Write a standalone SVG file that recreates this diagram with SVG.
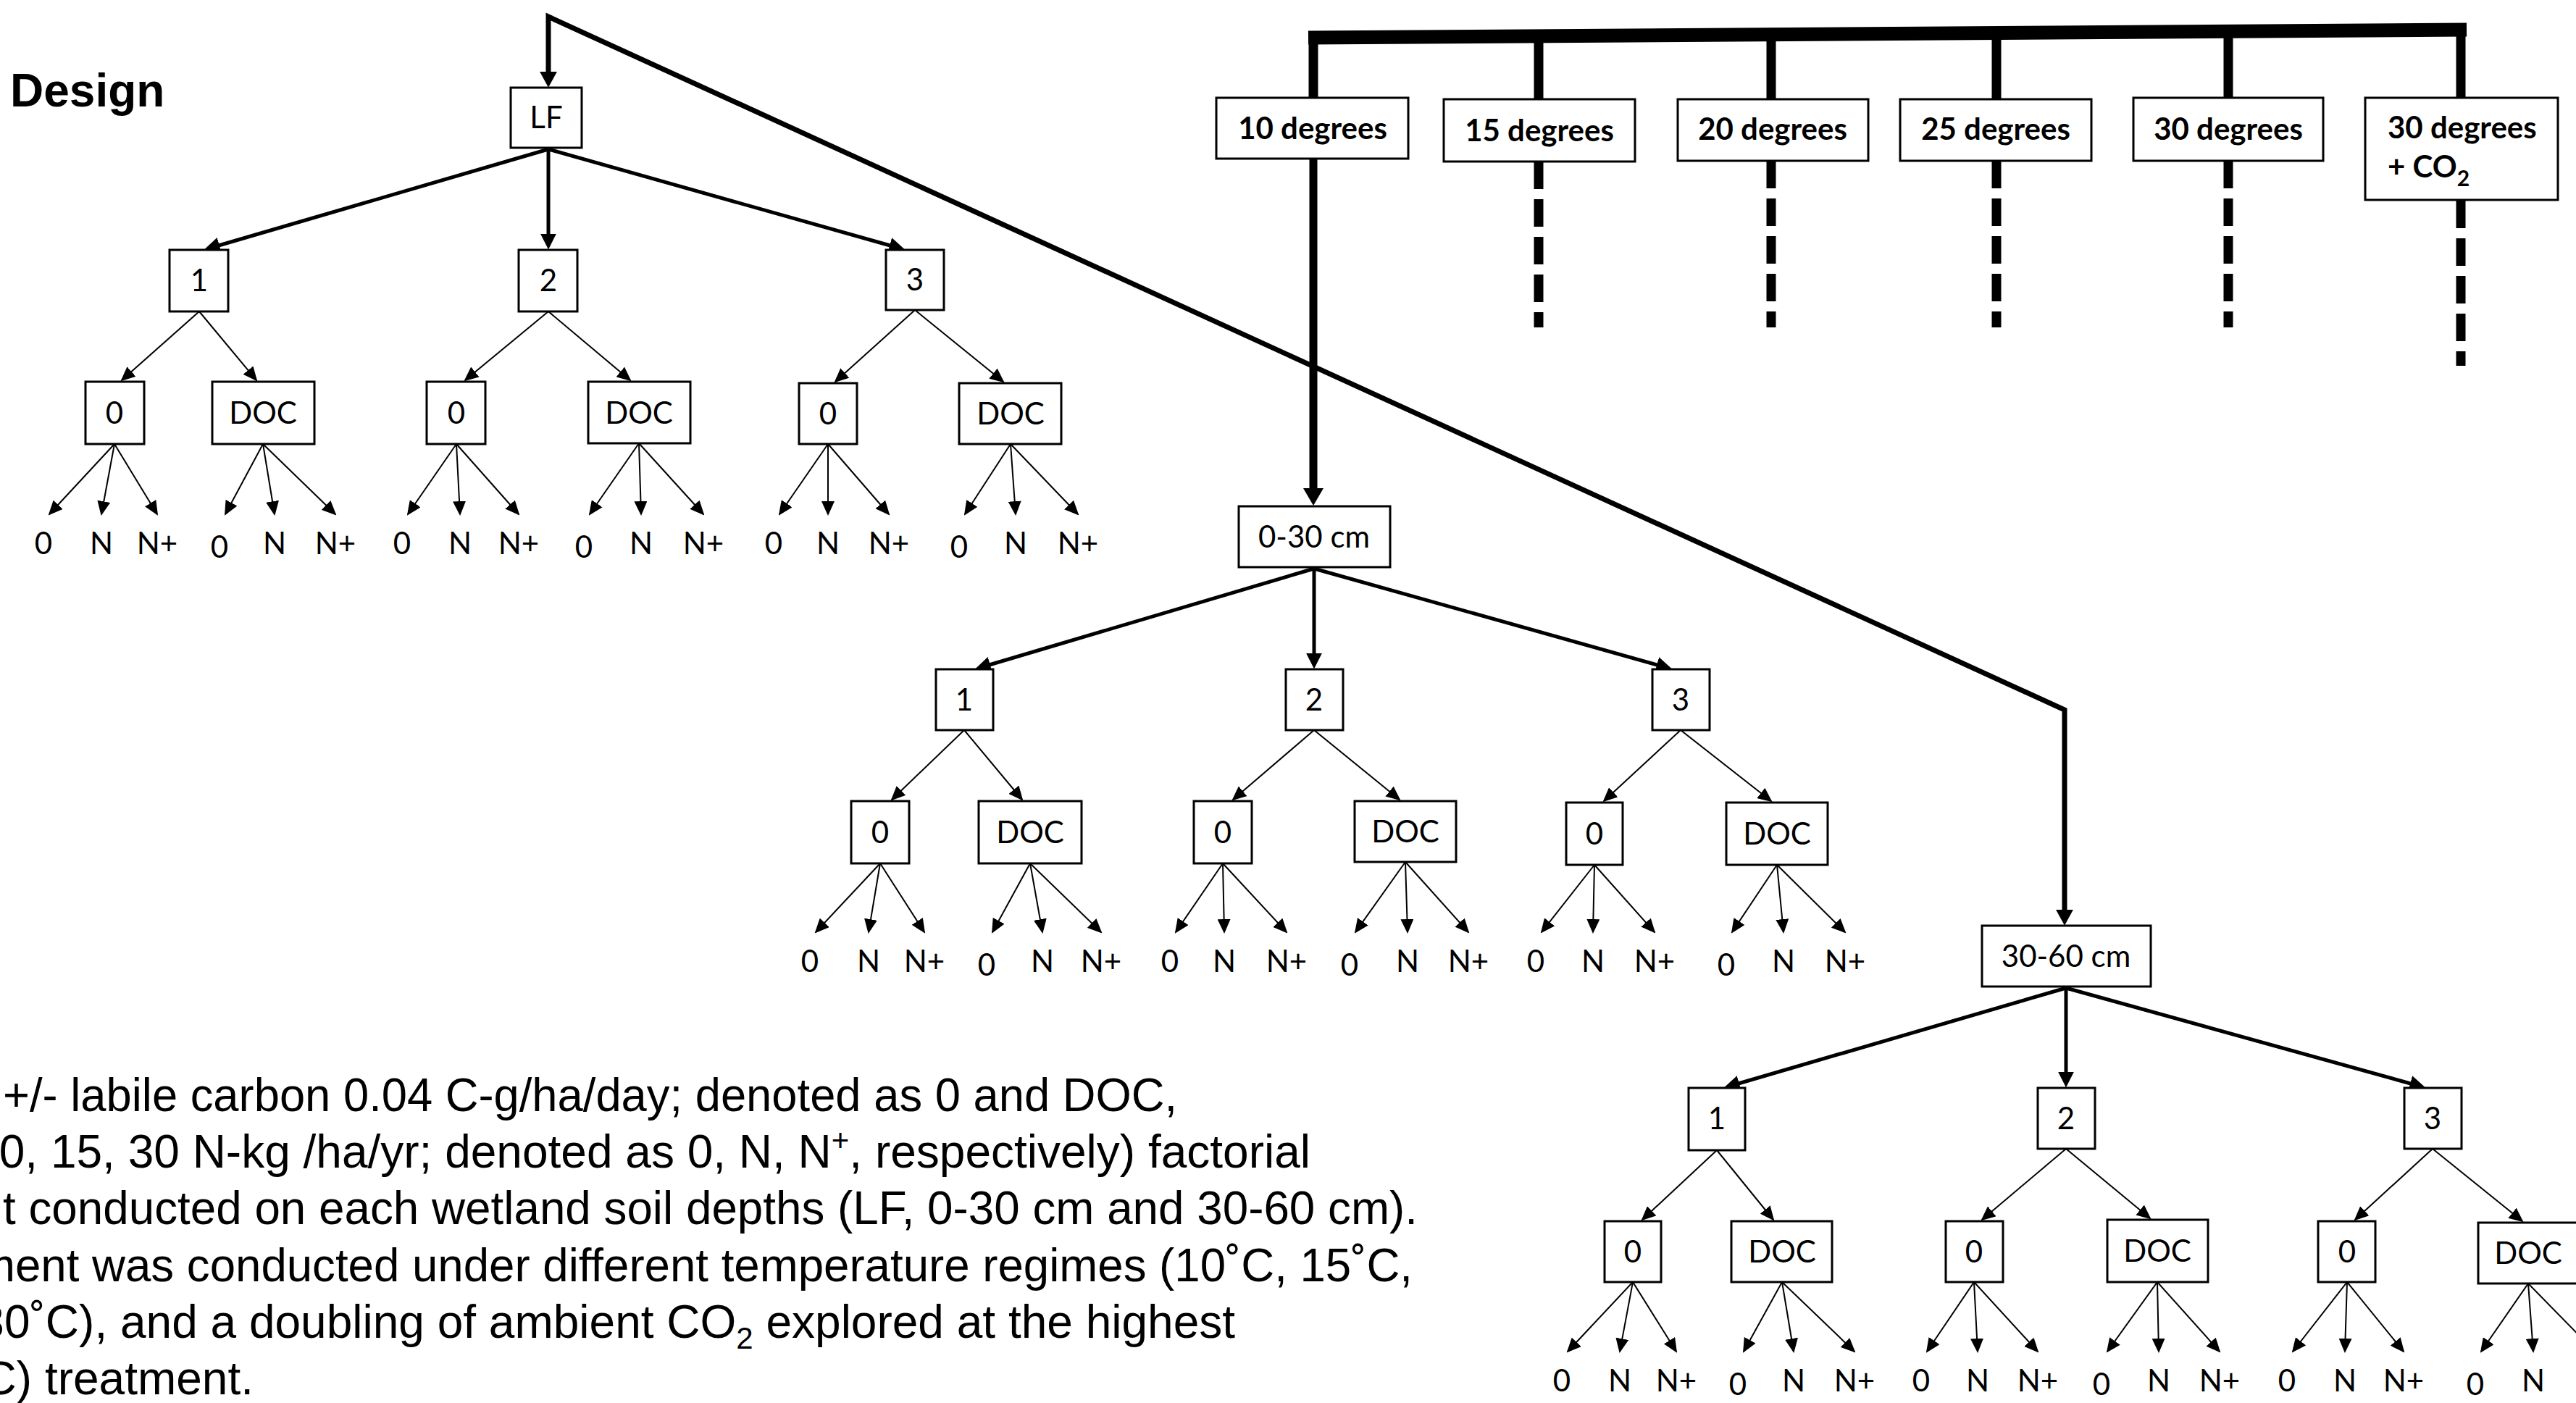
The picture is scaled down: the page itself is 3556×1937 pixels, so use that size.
<svg xmlns="http://www.w3.org/2000/svg" width="3556" height="1937" viewBox="0 0 3556 1937">
<style>
.box{fill:#fff;stroke:#000;stroke-width:3}
.nt{font-family:Lato,'Liberation Sans',sans-serif;font-size:42px;text-anchor:middle;fill:#000}
.dt{font-family:Lato,'Liberation Sans',sans-serif;font-size:42px;font-weight:bold;fill:#000}
.c{fill:none;stroke:#000}
.thin{stroke-width:2;marker-end:url(#ah)}
.thick{stroke-width:5;marker-end:url(#ahT)}
.dash{stroke-width:13;stroke-dasharray:38 14}
.desc{font-family:'Liberation Sans',Arial,sans-serif;font-size:64px;text-anchor:end;fill:#000}
</style>
<defs>
<marker id="ah" viewBox="0 0 10 10" refX="9" refY="5" markerUnits="userSpaceOnUse" markerWidth="20" markerHeight="18" orient="auto" preserveAspectRatio="none"><path d="M0,0L10,5L0,10z"/></marker>
<marker id="ahT" viewBox="0 0 10 10" refX="7" refY="5" markerUnits="userSpaceOnUse" markerWidth="22" markerHeight="22" orient="auto" preserveAspectRatio="none"><path d="M0,0L10,5L0,10z"/></marker>
<marker id="ahM" viewBox="0 0 10 10" refX="6" refY="5" markerUnits="userSpaceOnUse" markerWidth="22" markerHeight="24" orient="auto-start-reverse" preserveAspectRatio="none"><path d="M0,0L10,5L0,10z"/></marker>
<marker id="ahB" viewBox="0 0 10 10" refX="5" refY="5" markerUnits="userSpaceOnUse" markerWidth="24" markerHeight="28" orient="auto" preserveAspectRatio="none"><path d="M0,0L10,5L0,10z"/></marker>
</defs>
<rect width="3556" height="1937" fill="#fff"/>
<text x="14" y="147" font-family="'Liberation Sans',Arial,sans-serif" font-weight="bold" font-size="64">Design</text>

<g id="connectors">
<line class="c" x1="1806" y1="52" x2="3405" y2="41" stroke-width="19"/>
<path class="c" stroke-width="13" d="M1813,50V135M2124,48V137M2445,46V137M2756,44V137M3076,42V135M3397,40V135"/>
<path class="c dash" d="M2124,223V452M2445,222V452M2756,222V452M3076,222V452M3397,277V505"/>
<path class="c" stroke-width="11" marker-end="url(#ahB)" d="M1813,219V686"/>
<path class="c" stroke-width="7" stroke-linejoin="miter" marker-start="url(#ahM)" marker-end="url(#ahM)" d="M757,112L757,23L2850,980L2850,1269"/>
<!-- level 2 -->
<path class="c thick" d="M757,206L288,343"/>
<path class="c thick" d="M757,206L757,338"/>
<path class="c thick" d="M757,206L1243,343"/>
<path class="c thick" d="M1814,785L1352,922"/>
<path class="c thick" d="M1814,785L1814,917"/>
<path class="c thick" d="M1814,785L2302,922"/>
<path class="c thick" d="M2852,1364L2386,1500"/>
<path class="c thick" d="M2852,1364L2852,1495"/>
<path class="c thick" d="M2852,1364L3342,1500"/>
<!-- level 3 -->
<path class="c thin" d="M275,430L168,525"/>
<path class="c thin" d="M275,430L354,525"/>
<path class="c thin" d="M757,430L642,525"/>
<path class="c thin" d="M757,430L870,525"/>
<path class="c thin" d="M1263,428L1153,527"/>
<path class="c thin" d="M1263,428L1385,527"/>
<path class="c thin" d="M1331,1008L1231,1104"/>
<path class="c thin" d="M1331,1008L1411,1104"/>
<path class="c thin" d="M1814,1008L1702,1104"/>
<path class="c thin" d="M1814,1008L1932,1104"/>
<path class="c thin" d="M2320,1008L2214,1106"/>
<path class="c thin" d="M2320,1008L2445,1106"/>
<path class="c thin" d="M2370,1588L2267,1684"/>
<path class="c thin" d="M2370,1588L2448,1684"/>
<path class="c thin" d="M2852,1586L2736,1684"/>
<path class="c thin" d="M2852,1586L2968,1682"/>
<path class="c thin" d="M3358,1586L3251,1684"/>
<path class="c thin" d="M3358,1586L3482,1686"/>
<!-- leaves LF -->
<path class="c thin" d="M158,613L68,710"/><path class="c thin" d="M158,613L140,710"/><path class="c thin" d="M158,613L217,710"/>
<path class="c thin" d="M363,613L311,710"/><path class="c thin" d="M363,613L379,710"/><path class="c thin" d="M363,613L463,710"/>
<path class="c thin" d="M630,613L563,710"/><path class="c thin" d="M630,613L635,710"/><path class="c thin" d="M630,613L716,710"/>
<path class="c thin" d="M882,612L814,710"/><path class="c thin" d="M882,612L885,710"/><path class="c thin" d="M882,612L971,710"/>
<path class="c thin" d="M1143,613L1076,710"/><path class="c thin" d="M1143,613L1143,710"/><path class="c thin" d="M1143,613L1227,710"/>
<path class="c thin" d="M1395,613L1332,710"/><path class="c thin" d="M1395,613L1402,710"/><path class="c thin" d="M1395,613L1488,710"/>
<!-- leaves 0-30 -->
<path class="c thin" d="M1215,1192L1126,1287"/><path class="c thin" d="M1215,1192L1199,1287"/><path class="c thin" d="M1215,1192L1276,1287"/>
<path class="c thin" d="M1422,1192L1370,1287"/><path class="c thin" d="M1422,1192L1439,1287"/><path class="c thin" d="M1422,1192L1520,1287"/>
<path class="c thin" d="M1688,1192L1623,1287"/><path class="c thin" d="M1688,1192L1690,1287"/><path class="c thin" d="M1688,1192L1776,1287"/>
<path class="c thin" d="M1940,1190L1871,1287"/><path class="c thin" d="M1940,1190L1943,1287"/><path class="c thin" d="M1940,1190L2027,1287"/>
<path class="c thin" d="M2201,1194L2128,1287"/><path class="c thin" d="M2201,1194L2199,1287"/><path class="c thin" d="M2201,1194L2284,1287"/>
<path class="c thin" d="M2453,1194L2391,1287"/><path class="c thin" d="M2453,1194L2462,1287"/><path class="c thin" d="M2453,1194L2547,1287"/>
<!-- leaves 30-60 -->
<path class="c thin" d="M2254,1770L2164,1866"/><path class="c thin" d="M2254,1770L2236,1866"/><path class="c thin" d="M2254,1770L2314,1866"/>
<path class="c thin" d="M2460,1770L2407,1866"/><path class="c thin" d="M2460,1770L2476,1866"/><path class="c thin" d="M2460,1770L2560,1866"/>
<path class="c thin" d="M2725,1770L2660,1866"/><path class="c thin" d="M2725,1770L2730,1866"/><path class="c thin" d="M2725,1770L2813,1866"/>
<path class="c thin" d="M2978,1770L2909,1866"/><path class="c thin" d="M2978,1770L2980,1866"/><path class="c thin" d="M2978,1770L3064,1866"/>
<path class="c thin" d="M3240,1770L3165,1866"/><path class="c thin" d="M3240,1770L3237,1866"/><path class="c thin" d="M3240,1770L3318,1866"/>
<path class="c thin" d="M3490,1772L3425,1866"/><path class="c thin" d="M3490,1772L3497,1866"/><path class="c thin" d="M3490,1772L3582,1866"/>
</g>

<!-- temperature nodes -->
<g id="deg10"><rect class="box" x="1679" y="135" width="265" height="84"/><text class="dt" x="1812" y="192" text-anchor="middle">10 degrees</text></g>
<g id="deg15"><rect class="box" x="1993" y="137" width="264" height="86"/><text class="dt" x="2125" y="195" text-anchor="middle">15 degrees</text></g>
<g id="deg20"><rect class="box" x="2316" y="137" width="263" height="85"/><text class="dt" x="2447" y="193" text-anchor="middle">20 degrees</text></g>
<g id="deg25"><rect class="box" x="2623" y="137" width="264" height="85"/><text class="dt" x="2755" y="193" text-anchor="middle">25 degrees</text></g>
<g id="deg30"><rect class="box" x="2945" y="135" width="262" height="87"/><text class="dt" x="3076" y="193" text-anchor="middle">30 degrees</text></g>
<g id="deg30co2"><rect class="box" x="3265" y="135" width="266" height="141"/><text class="dt" x="3296" y="191">30 degrees</text><text class="dt" x="3296" y="245">+ CO<tspan font-size="30" dy="12">2</tspan></text></g>

<!-- LF tree -->
<g id="lf"><rect class="box" x="705" y="121" width="98" height="83"/><text class="nt" x="754" y="177">LF</text></g>
<g id="lf-1"><rect class="box" x="234" y="345" width="81" height="85"/><text class="nt" x="275" y="402">1</text></g>
<g id="lf-2"><rect class="box" x="716" y="345" width="81" height="85"/><text class="nt" x="757" y="402">2</text></g>
<g id="lf-3"><rect class="box" x="1223" y="345" width="80" height="83"/><text class="nt" x="1263" y="401">3</text></g>
<g id="lf-1-0"><rect class="box" x="118" y="527" width="81" height="86"/><text class="nt" x="158" y="585">0</text></g>
<g id="lf-1-doc"><rect class="box" x="293" y="527" width="141" height="86"/><text class="nt" x="363" y="585">DOC</text></g>
<g id="lf-2-0"><rect class="box" x="589" y="527" width="81" height="86"/><text class="nt" x="630" y="585">0</text></g>
<g id="lf-2-doc"><rect class="box" x="812" y="527" width="141" height="85"/><text class="nt" x="882" y="585">DOC</text></g>
<g id="lf-3-0"><rect class="box" x="1103" y="529" width="80" height="84"/><text class="nt" x="1143" y="586">0</text></g>
<g id="lf-3-doc"><rect class="box" x="1324" y="529" width="141" height="84"/><text class="nt" x="1395" y="586">DOC</text></g>
<g id="lf-leaves">
<text class="nt" x="60" y="765">0</text><text class="nt" x="140" y="765">N</text><text class="nt" x="217" y="765">N+</text>
<text class="nt" x="303" y="770">0</text><text class="nt" x="379" y="765">N</text><text class="nt" x="463" y="765">N+</text>
<text class="nt" x="555" y="765">0</text><text class="nt" x="635" y="765">N</text><text class="nt" x="716" y="765">N+</text>
<text class="nt" x="806" y="770">0</text><text class="nt" x="885" y="765">N</text><text class="nt" x="971" y="765">N+</text>
<text class="nt" x="1068" y="765">0</text><text class="nt" x="1143" y="765">N</text><text class="nt" x="1227" y="765">N+</text>
<text class="nt" x="1324" y="770">0</text><text class="nt" x="1402" y="765">N</text><text class="nt" x="1488" y="765">N+</text>
</g>

<!-- 0-30 tree -->
<g id="d030"><rect class="box" x="1710" y="699" width="209" height="84"/><text class="nt" x="1814" y="756">0-30 cm</text></g>
<g id="d030-1"><rect class="box" x="1292" y="924" width="79" height="84"/><text class="nt" x="1331" y="981">1</text></g>
<g id="d030-2"><rect class="box" x="1775" y="924" width="79" height="84"/><text class="nt" x="1814" y="981">2</text></g>
<g id="d030-3"><rect class="box" x="2281" y="924" width="79" height="84"/><text class="nt" x="2320" y="981">3</text></g>
<g id="d030-1-0"><rect class="box" x="1175" y="1106" width="80" height="86"/><text class="nt" x="1215" y="1164">0</text></g>
<g id="d030-1-doc"><rect class="box" x="1351" y="1106" width="142" height="86"/><text class="nt" x="1422" y="1164">DOC</text></g>
<g id="d030-2-0"><rect class="box" x="1648" y="1106" width="80" height="86"/><text class="nt" x="1688" y="1164">0</text></g>
<g id="d030-2-doc"><rect class="box" x="1870" y="1106" width="140" height="84"/><text class="nt" x="1940" y="1163">DOC</text></g>
<g id="d030-3-0"><rect class="box" x="2162" y="1108" width="78" height="86"/><text class="nt" x="2201" y="1166">0</text></g>
<g id="d030-3-doc"><rect class="box" x="2383" y="1108" width="140" height="86"/><text class="nt" x="2453" y="1166">DOC</text></g>
<g id="d030-leaves">
<text class="nt" x="1118" y="1342">0</text><text class="nt" x="1199" y="1342">N</text><text class="nt" x="1276" y="1342">N+</text>
<text class="nt" x="1362" y="1347">0</text><text class="nt" x="1439" y="1342">N</text><text class="nt" x="1520" y="1342">N+</text>
<text class="nt" x="1615" y="1342">0</text><text class="nt" x="1690" y="1342">N</text><text class="nt" x="1776" y="1342">N+</text>
<text class="nt" x="1863" y="1347">0</text><text class="nt" x="1943" y="1342">N</text><text class="nt" x="2027" y="1342">N+</text>
<text class="nt" x="2120" y="1342">0</text><text class="nt" x="2199" y="1342">N</text><text class="nt" x="2284" y="1342">N+</text>
<text class="nt" x="2383" y="1347">0</text><text class="nt" x="2462" y="1342">N</text><text class="nt" x="2547" y="1342">N+</text>
</g>

<!-- 30-60 tree -->
<g id="d3060"><rect class="box" x="2736" y="1278" width="233" height="84"/><text class="nt" x="2852" y="1335">30-60 cm</text></g>
<g id="d3060-1"><rect class="box" x="2331" y="1502" width="78" height="86"/><text class="nt" x="2370" y="1559">1</text></g>
<g id="d3060-2"><rect class="box" x="2813" y="1502" width="79" height="84"/><text class="nt" x="2852" y="1559">2</text></g>
<g id="d3060-3"><rect class="box" x="3319" y="1502" width="79" height="84"/><text class="nt" x="3358" y="1559">3</text></g>
<g id="d3060-1-0"><rect class="box" x="2215" y="1686" width="78" height="84"/><text class="nt" x="2254" y="1743">0</text></g>
<g id="d3060-1-doc"><rect class="box" x="2390" y="1686" width="139" height="84"/><text class="nt" x="2460" y="1743">DOC</text></g>
<g id="d3060-2-0"><rect class="box" x="2686" y="1686" width="79" height="84"/><text class="nt" x="2725" y="1743">0</text></g>
<g id="d3060-2-doc"><rect class="box" x="2909" y="1684" width="139" height="86"/><text class="nt" x="2978" y="1742">DOC</text></g>
<g id="d3060-3-0"><rect class="box" x="3200" y="1686" width="79" height="84"/><text class="nt" x="3240" y="1743">0</text></g>
<g id="d3060-3-doc"><rect class="box" x="3421" y="1688" width="139" height="84"/><text class="nt" x="3490" y="1745">DOC</text></g>
<g id="d3060-leaves">
<text class="nt" x="2156" y="1921">0</text><text class="nt" x="2236" y="1921">N</text><text class="nt" x="2314" y="1921">N+</text>
<text class="nt" x="2399" y="1926">0</text><text class="nt" x="2476" y="1921">N</text><text class="nt" x="2560" y="1921">N+</text>
<text class="nt" x="2652" y="1921">0</text><text class="nt" x="2730" y="1921">N</text><text class="nt" x="2813" y="1921">N+</text>
<text class="nt" x="2901" y="1926">0</text><text class="nt" x="2980" y="1921">N</text><text class="nt" x="3064" y="1921">N+</text>
<text class="nt" x="3157" y="1921">0</text><text class="nt" x="3237" y="1921">N</text><text class="nt" x="3318" y="1921">N+</text>
<text class="nt" x="3417" y="1926">0</text><text class="nt" x="3497" y="1921">N</text>
</g>

<g id="description">
<text class="desc" x="1625" y="1534" textLength="1621" lengthAdjust="spacingAndGlyphs">+/- labile carbon 0.04 C-g/ha/day; denoted as 0 and DOC,</text>
<text class="desc" x="1809" y="1612">0, 15, 30 N-kg /ha/yr; denoted as 0, N, N<tspan font-size="42" dy="-23">+</tspan><tspan dy="23">, respectively) factorial</tspan></text>
<text class="desc" x="1957" y="1690" textLength="1953" lengthAdjust="spacingAndGlyphs">t conducted on each wetland soil depths (LF, 0-30 cm and 30-60 cm).</text>
<text class="desc" x="1950" y="1769" textLength="1982" lengthAdjust="spacingAndGlyphs">ment was conducted under different temperature regimes (10˚C, 15˚C,</text>
<text class="desc" x="1705" y="1847">30˚C), and a doubling of ambient CO<tspan font-size="42" dy="15">2</tspan><tspan dy="-15"> explored at the highest</tspan></text>
<text class="desc" x="350" y="1925">C) treatment.</text>
</g>
</svg>
